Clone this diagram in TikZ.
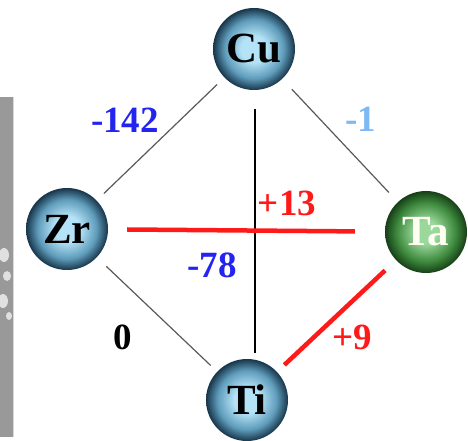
\documentclass[tikz,border=0pt]{standalone}
\usepackage{fontspec}
\setmainfont{Liberation Serif}
\definecolor{bcen}{HTML}{B4E2F6}
\definecolor{bmid}{HTML}{5F9CBB}
\definecolor{bedge}{HTML}{17354A}
\definecolor{gcen}{HTML}{9BD89B}
\definecolor{gmid}{HTML}{3E8A3E}
\definecolor{gedge}{HTML}{173F17}
\definecolor{numblue}{HTML}{2424F0}
\definecolor{numlight}{HTML}{7CB9F4}
\definecolor{numred}{HTML}{FF1A1A}
\pgfdeclareradialshading{blueball}{\pgfpoint{0bp}{0bp}}{color(0bp)=(bcen); color(8bp)=(bcen); color(18bp)=(bmid); color(25bp)=(bedge); color(50bp)=(bedge)}
\pgfdeclareradialshading{greenball}{\pgfpoint{0bp}{0bp}}{color(0bp)=(gcen); color(7bp)=(gcen); color(18bp)=(gmid); color(25bp)=(gedge); color(50bp)=(gedge)}
\tikzset{
  atom/.style={circle, minimum size=82pt, inner sep=0pt, shading=blueball, font=\fontsize{43}{43}\selectfont\bfseries, text=black},
  greenatom/.style={atom, shading=greenball, text=white!95!yellow},
  bond/.style={draw=black!65, line width=1.2pt},
  redbond/.style={draw=numred, line width=4.5pt},
  num/.style={font=\fontsize{37}{37}\selectfont\bfseries, inner sep=0pt}
}
\begin{document}
\begin{tikzpicture}[x=1pt,y=1pt]
\useasboundingbox (0,0) rectangle (468,441);
% gray strip at left
\fill[black!40] (0,4) rectangle (13,344);
\draw[white!85!black, line width=0.8pt] (13,4) -- (13,344);
\fill[white!88!black] (4,186) ellipse (5 and 7);
\fill[white!88!black] (7,165) ellipse (4 and 5);
\fill[white!88!black] (3,140) ellipse (5 and 7);
\fill[white!88!black] (9,125) ellipse (3 and 4);
% atoms
\node[atom] (Cu) at (254,392) {Cu};
\node[atom] (Zr) at (67,212) {Zr};
\node[greenatom] (Ta) at (426,209) {Ta};
\node[atom] (Ti) at (247,41) {Ti};
% bonds
\draw[bond, shorten <=10pt, shorten >=10pt] (Cu) -- (Zr);
\draw[bond, shorten <=14pt, shorten >=13pt] (Cu) -- (Ta);
\draw[bond, shorten <=13pt, shorten >=9pt] (Zr) -- (Ti);
\draw[draw=black, line width=1.2pt] ([shift={(1pt,-19pt)}]Cu.south) -- ([shift={(1pt,6pt)}]Cu.south |- Ti.north);
\draw[redbond, shorten <=19pt, shorten >=30pt] (Zr) -- (Ta);
\draw[redbond, shorten <=15pt, shorten >=10pt] (Ta) -- (Ti);
% labels
\node[num, text=numblue] (l142) at (125,321) {-142};
\node[num, text=numlight] (l1) at (361,322) {-1};
\node[num, text=numred] (l13) at (287,238) {+13};
\node[num, text=numblue] (l78) at (212,176) {-78};
\node[num, text=black] (l0) at (123,104) {0};
\node[num, text=numred] (l9) at (352,104) {+9};
\end{tikzpicture}
\end{document}
